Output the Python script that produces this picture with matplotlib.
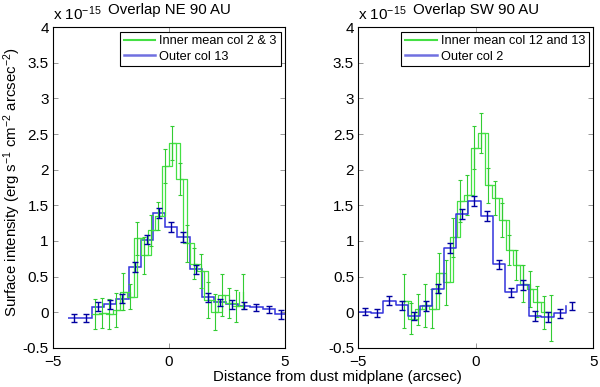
import numpy as np
import matplotlib
matplotlib.use('Agg')
import matplotlib.pyplot as plt
from matplotlib.lines import Line2D

plt.rcParams['font.family'] = ['Liberation Sans', 'DejaVu Sans']
plt.rcParams['mathtext.default'] = 'regular'

# NE panel
blue_ne_x = [-4.10, -3.58, -3.05, -2.52, -2.00, -1.47, -0.95, -0.42, 0.10, 0.62, 1.15, 1.67, 2.20, 2.72, 3.25, 3.77, 4.30, 4.82]
blue_ne_y = [-0.08, -0.08, 0.08, 0.11, 0.19, 0.63, 1.02, 1.39, 1.20, 1.06, 0.60, 0.21, 0.14, 0.11, 0.09, 0.07, 0.04, -0.03]
blue_ne_err = [0.06, 0.05, 0.06, 0.06, 0.06, 0.07, 0.06, 0.07, 0.07, 0.07, 0.06, 0.06, 0.05, 0.06, 0.05, 0.05, 0.05, 0.06]

green_ne_x = [-3.18, -2.88, -2.57, -2.27, -1.97, -1.67, -1.36, -1.06, -0.76, -0.45, -0.15, 0.15, 0.46, 0.76, 1.06, 1.37, 1.67, 1.97, 2.27, 2.58, 2.88, 3.18]
green_ne_y = [-0.02, -0.01, -0.02, 0.03, 0.29, 0.22, 1.04, 0.80, 1.15, 1.35, 2.05, 2.37, 1.87, 0.97, 0.68, 0.58, 0.17, 0.00, 0.24, 0.13, 0.09, 0.29]
green_ne_err = [0.21, 0.21, 0.21, 0.24, 0.26, 0.17, 0.23, 0.26, 0.22, 0.20, 0.24, 0.24, 0.23, 0.26, 0.22, 0.24, 0.25, 0.25, 0.29, 0.21, 0.22, 0.25]

# SW panel
blue_sw_x = [-4.71, -4.19, -3.68, -3.15, -2.63, -2.12, -1.59, -1.09, -0.57, -0.07, 0.46, 0.98, 1.50, 2.01, 2.53, 3.05, 3.57, 4.09]
blue_sw_y = [0.01, -0.01, 0.165, 0.095, -0.05, 0.09, 0.33, 0.905, 1.38, 1.56, 1.35, 0.67, 0.28, 0.38, -0.05, -0.06, -0.015, 0.09]
blue_sw_err = [0.05, 0.05, 0.06, 0.06, 0.06, 0.07, 0.06, 0.07, 0.07, 0.07, 0.07, 0.07, 0.06, 0.07, 0.07, 0.07, 0.06, 0.06]

green_sw_x = [-3.04, -2.74, -2.45, -2.15, -1.85, -1.56, -1.26, -0.96, -0.66, -0.37, -0.07, 0.23, 0.52, 0.82, 1.12, 1.42, 1.71, 2.01, 2.31, 2.60, 2.90, 3.20]
green_sw_y = [0.16, -0.09, 0.04, 0.10, 0.05, 0.55, 0.42, 1.05, 1.56, 1.65, 2.31, 2.52, 1.78, 1.60, 1.29, 0.87, 0.66, 0.40, 0.33, 0.15, 0.00, -0.08]
green_sw_err = [0.38, 0.22, 0.22, 0.30, 0.27, 0.28, 0.32, 0.27, 0.30, 0.28, 0.30, 0.28, 0.25, 0.24, 0.24, 0.21, 0.21, 0.26, 0.25, 0.22, 0.23, 0.32]

titles = ['Overlap NE 90 AU', 'Overlap SW 90 AU']
labels_green = ['Inner mean col 2 & 3', 'Inner mean col 12 and 13']
labels_blue = ['Outer col 13', 'Outer col 2']

GREEN = '#44e044'
GREEN_ERR = '#33cc33'
BLUE = '#3333dd'
BLUE_ERR = '#0000a0'


def stairs_xy(xs, ys):
    # matlab-like stairs: y[i] held from x[i] to x[i+1]
    xs = np.asarray(xs)
    ys = np.asarray(ys)
    return np.repeat(xs, 2)[1:], np.repeat(ys, 2)[:-1]


def half_step(x):
    x = np.asarray(x)
    return np.mean(np.diff(x)) / 2


fig = plt.figure(figsize=(6, 3.87), dpi=100)
ax1 = fig.add_axes([0.088, 0.101, 0.387, 0.829])
ax2 = fig.add_axes([0.597, 0.101, 0.392, 0.829])

panels = [
    (ax1, green_ne_x, green_ne_y, green_ne_err, blue_ne_x, blue_ne_y, blue_ne_err),
    (ax2, green_sw_x, green_sw_y, green_sw_err, blue_sw_x, blue_sw_y, blue_sw_err),
]

for k, (ax, gx, gy, ge, bx, by, be) in enumerate(panels):
    gx = np.asarray(gx)
    bx = np.asarray(bx)
    h = half_step(gx)
    # green: centred stairs plus the plain stairs
    px, py = stairs_xy(gx - h, gy)
    ax.plot(px, py, color=GREEN, lw=0.9)
    px, py = stairs_xy(gx, gy)
    ax.plot(px, py, color=GREEN, lw=0.9)
    ax.errorbar(gx, gy, yerr=ge, fmt='none', ecolor=GREEN_ERR, elinewidth=0.8,
                capsize=1.2, capthick=0.8)

    hb = half_step(bx)
    if k == 0:
        edges = np.concatenate([bx - hb, [bx[-1] + hb]])
        ax.stairs(by, edges, baseline=None, color=BLUE, lw=1.1)
    else:
        px, py = stairs_xy(bx - hb, by)
        ax.plot(px, py, color=BLUE, lw=1.1)
    ax.errorbar(bx, by, yerr=be, fmt='none', ecolor=BLUE_ERR, elinewidth=1.0,
                capsize=2.5, capthick=1.0)

    ax.set_xlim(-5, 5)
    ax.set_ylim(-0.5, 4)
    ax.set_xticks([-5, 0, 5])
    ax.set_yticks(np.arange(-0.5, 4.01, 0.5))
    ax.set_yticklabels(['%g' % v for v in np.arange(-0.5, 4.01, 0.5)])
    ax.tick_params(direction='in', top=True, right=True, labelsize=11,
                   length=3.5, width=0.6, color='#888888')
    ax.tick_params(axis='x', pad=5)
    ax.tick_params(axis='y', pad=3)
    for s in ax.spines.values():
        s.set_linewidth(0.8)

    handles = [Line2D([], [], color=GREEN, lw=1.5), Line2D([], [], color='#7070e0', lw=1.8)]
    leg = ax.legend(handles, [labels_green[k], labels_blue[k]], loc='upper right',
                    fancybox=False, framealpha=1, edgecolor='k', fontsize=9.2,
                    handlelength=2.5, borderaxespad=0.35, borderpad=0.3,
                    labelspacing=0.25, handletextpad=0.3)
    leg.get_frame().set_linewidth(0.8)

    ax.text(0.0, 1.012, r'x 10$^{-15}$', transform=ax.transAxes, ha='left',
            va='bottom', fontsize=11)
    ax.text(0.5, 1.03, titles[k], transform=ax.transAxes, ha='center',
            va='bottom', fontsize=10.8)

fig.text(0.02, 0.53, r'Surface intensity (erg s$^{-1}$ cm$^{-2}$ arcsec$^{-2}$)',
         rotation=90, ha='center', va='center', fontsize=10.8)
fig.text(0.563, 0.027, 'Distance from dust midplane (arcsec)', ha='center',
         va='center', fontsize=10.8)

fig.savefig('out.png', dpi=100)
